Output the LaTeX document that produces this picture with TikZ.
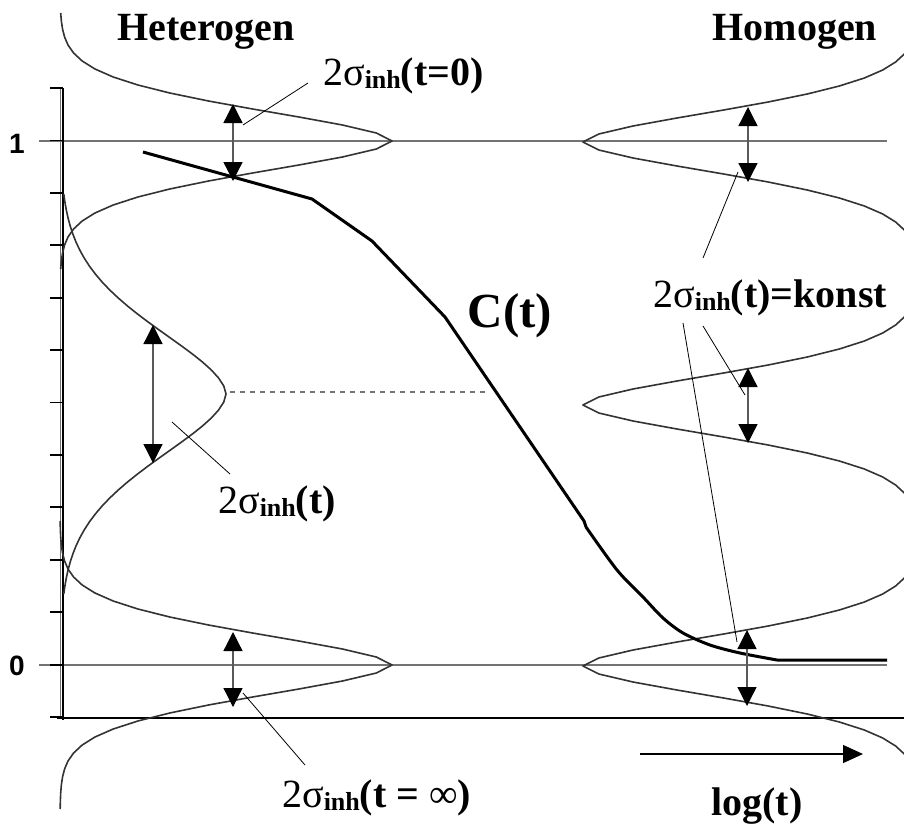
\documentclass[tikz,border=0pt]{standalone}
\usepackage{fontspec}
\setmainfont{Liberation Serif}
\newfontfamily\arialf{Liberation Sans}
\usetikzlibrary{arrows.meta}
\newcommand\fsz[1]{\fontsize{#1}{#1}\selectfont}
\newcommand\sigl[1]{{\fsz{40}2σ}{\fsz{26}\bfseries\raisebox{-3pt}{inh}}{\fsz{40}\bfseries #1}}
\begin{document}
\begin{tikzpicture}[x=1pt,y=-1pt,
  gauss/.style={draw=black!80, line width=1.6pt, line join=round},
  guide/.style={draw=black!55, line width=1.1pt},
  dbl/.style={draw=black!65, line width=1.3pt, {Triangle[width=19pt,length=19pt,color=black]}-{Triangle[width=19pt,length=19pt,color=black]}},
  leader/.style={draw=black, line width=0.8pt},
  ccurve/.style={draw=black, line width=3pt, line join=round},
  lbl/.style={anchor=base west, inner sep=0pt},
  ttl/.style={anchor=base, inner sep=0pt, font=\fsz{40}\bfseries},
  axlbl/.style={inner sep=0pt, font=\arialf\bfseries\fsz{28}}]
\useasboundingbox (0,0) rectangle (904,827);
\clip (0,0) rectangle (904,827);
% guides
\draw[guide] (39,141) -- (887,141);
\draw[guide] (39,665) -- (887,665);
\draw[guide, dash pattern=on 5pt off 5pt] (230,392) -- (485,392);
% axis
\draw[black!55, line width=0.9pt] (60,88) -- (60,718);
\draw[black, line width=2.8pt] (63,88) -- (63,720);
\foreach \i in {0,...,12} \draw[line width=1.8pt] (50,{88+\i*52.42}) -- (63,{88+\i*52.42});
\draw[black, line width=2.8pt] (57,718) -- (904,718);
% left gaussians
\draw[gauss] plot[domain=-128:128, samples=33] ({60+332*exp(-exp(1.75*ln((abs(\x)+0.01)/45.3)))}, {141+\x});
\draw[gauss] plot[domain=-200:200, samples=51] ({60+166*exp(-exp(1.75*ln((abs(\x)+0.01)/93.5)))}, {394+\x});
\draw[gauss] plot[domain=-144:144, samples=37] ({60+332*exp(-exp(1.75*ln((abs(\x)+0.01)/45.3)))}, {665+\x});
% right gaussians
\draw[gauss] plot[domain=-128:128, samples=33] ({918-335*exp(-exp(1.75*ln((abs(\x)+0.01)/45.3)))}, {142+\x});
\draw[gauss] plot[domain=-128:128, samples=33] ({918-335*exp(-exp(1.75*ln((abs(\x)+0.01)/45.3)))}, {405+\x});
\draw[gauss] plot[domain=-128:128, samples=33] ({918-335*exp(-exp(1.75*ln((abs(\x)+0.01)/45.3)))}, {666+\x});
% C(t)
\draw[ccurve] (143,152) -- (312,199) -- (372,241) -- (445,317) -- (584,521) -- (586,527)
  plot[smooth, tension=0.5] coordinates {(586,527) (617,570) (643,597) (663,618) (683,633) (710,645) (740,653) (777,660)} -- (887,660);
% double arrows
\coordinate (a1t) at (233,104); \coordinate (a1b) at (233,181);
\coordinate (a2t) at (153,325); \coordinate (a2b) at (153,463);
\coordinate (a3t) at (233,632); \coordinate (a3b) at (233,707);
\coordinate (b1t) at (748,107); \coordinate (b1b) at (748,182);
\coordinate (b2t) at (748,368); \coordinate (b2b) at (748,443);
\coordinate (b3t) at (747,630); \coordinate (b3b) at (747,706);
\draw[dbl] (a1t) -- (a1b);
\draw[dbl] (a2t) -- (a2b);
\draw[dbl] (a3t) -- (a3b);
\draw[dbl] (b1t) -- (b1b);
\draw[dbl] (b2t) -- (b2b);
\draw[dbl] (b3t) -- (b3b);
% labels
\node[ttl] (het) at (206,40) {Heterogen};
\node[ttl] (hom) at (795,40) {Homogen};
\node[ttl, font=\fsz{49}\bfseries] (ct) at (510,327) {C(t)};
\node[ttl] (lg) at (757,815) {log(t)};
\node[axlbl] (one) at (17,144) {1};
\node[axlbl] (zero) at (17,666) {0};
\node[lbl] (s0) at (323,85) {\sigl{(t=0)}};
\node[lbl] (sk) at (653,307) {\sigl{(t)=konst}};
\node[lbl] (st) at (218,513) {\sigl{(t)}};
\node[lbl] (si) at (282,807) {{\fsz{40}2σ}{\fsz{26}\bfseries\raisebox{-3pt}{inh}}{\fsz{40}\bfseries(t = }{\fsz{40}∞}{\fsz{40}\bfseries)}};
% leaders
\coordinate (l1s) at (308,83);  \coordinate (l1e) at (243,125);
\coordinate (l2s) at (230,474); \coordinate (l2e) at (172,422);
\coordinate (l3s) at (305,765); \coordinate (l3e) at (243,693);
\coordinate (l4s) at (703,258); \coordinate (l4e) at (738,172);
\coordinate (l5s) at (683,323); \coordinate (l5e) at (737,642);
\coordinate (l6s) at (703,326); \coordinate (l6e) at (745,395);
\draw[leader] (l1s) -- (l1e);
\draw[leader] (l2s) -- (l2e);
\draw[leader] (l3s) -- (l3e);
\draw[leader] (l4s) -- (l4e);
\draw[leader] (l5s) -- (l5e);
\draw[leader] (l6s) -- (l6e);
% time arrow
\coordinate (ts) at (640,754); \coordinate (te) at (863,754);
\draw[line width=1.3pt, -{Triangle[width=18pt,length=20pt]}] (ts) -- (te);
\end{tikzpicture}
\end{document}
